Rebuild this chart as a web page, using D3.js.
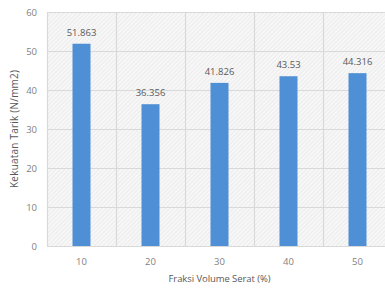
<!DOCTYPE html>
<html>
<head>
<meta charset="utf-8">
<script src="https://cdn.jsdelivr.net/npm/d3@7"></script>
<style>
  body { margin: 0; background: #fff; }
  text { font-family: "Open Sans", "Liberation Sans", sans-serif; fill: #595959; }
</style>
</head>
<body>
<div id="chart"></div>
<script>
// categories and values
var fraksi = ["10", "20", "30", "40", "50"];
var kekuatan = [51.863, 36.356, 41.826, 43.53, 44.316];
var labels = ["51.863", "36.356", "41.826", "43.53", "44.316"];
var yTicks = [0, 10, 20, 30, 40, 50, 60];

var width = 385, height = 290;
var margin = {top: 12, right: -7, bottom: 44, left: 47};

var svg = d3.select("#chart").append("svg")
	.attr("width", width)
	.attr("height", height);

// hatched plot background
var defs = svg.append("defs");
var pat = defs.append("pattern")
	.attr("id", "hatch")
	.attr("width", 3)
	.attr("height", 3)
	.attr("patternUnits", "userSpaceOnUse")
	.attr("patternTransform", "rotate(45)");
pat.append("rect").attr("width", 3).attr("height", 3).attr("fill", "#f7f7f7");
pat.append("line")
	.attr("x1", 0).attr("y1", 0).attr("x2", 0).attr("y2", 3)
	.attr("stroke", "#e2e2e2").attr("stroke-width", 1);

var x = d3.scaleBand()
	.domain(fraksi)
	.range([margin.left, width - margin.right])
	.paddingInner(0)
	.paddingOuter(0);

var y = d3.scaleLinear()
	.domain([0, 60])
	.range([height - margin.bottom, margin.top]);

svg.append("rect")
	.attr("x", margin.left)
	.attr("y", margin.top)
	.attr("width", width - margin.right - margin.left)
	.attr("height", y(0) - margin.top)
	.attr("fill", "url(#hatch)");

// horizontal gridlines
svg.selectAll("line.hgrid")
	.data(yTicks)
	.enter()
	.append("line")
	.attr("class", "hgrid")
	.attr("x1", margin.left)
	.attr("x2", width - margin.right)
	.attr("y1", function(d) { return y(d) + 0.5; })
	.attr("y2", function(d) { return y(d) + 0.5; })
	.attr("stroke", "#d9d9d9")
	.attr("stroke-width", 1.2);

// vertical gridlines at category boundaries
var bounds = fraksi.map(function(d) { return x(d); }).concat([x(fraksi[fraksi.length - 1]) + x.bandwidth()]);
svg.selectAll("line.vgrid")
	.data(bounds)
	.enter()
	.append("line")
	.attr("class", "vgrid")
	.attr("x1", function(d) { return d + 0.5; })
	.attr("x2", function(d) { return d + 0.5; })
	.attr("y1", margin.top)
	.attr("y2", y(0))
	.attr("stroke", "#d9d9d9")
	.attr("stroke-width", 1.2);

// bars
var barW = 18;
svg.selectAll("rect.bar")
	.data(kekuatan)
	.enter()
	.append("rect")
	.attr("class", "bar")
	.attr("x", function(d, i) { return x(fraksi[i]) + x.bandwidth() / 2 - barW / 2; })
	.attr("y", function(d) { return y(d); })
	.attr("width", barW)
	.attr("height", function(d) { return y(0) - y(d); })
	.attr("fill", "#4f8fd6");

// value labels
svg.selectAll("text.val")
	.data(kekuatan)
	.enter()
	.append("text")
	.attr("class", "val")
	.attr("x", function(d, i) { return x(fraksi[i]) + x.bandwidth() / 2; })
	.attr("y", function(d) { return y(d) - 8; })
	.attr("text-anchor", "middle")
	.style("font-size", "9.5px")
	.text(function(d, i) { return labels[i]; });

// y tick labels
svg.selectAll("text.ytick")
	.data(yTicks)
	.enter()
	.append("text")
	.attr("class", "ytick")
	.attr("x", 37)
	.attr("y", function(d) { return y(d) + 3.5; })
	.attr("text-anchor", "end")
	.style("font-size", "9.5px")
	.style("fill", "#7f7f7f")
	.text(function(d) { return d; });

// x tick labels
svg.selectAll("text.xtick")
	.data(fraksi)
	.enter()
	.append("text")
	.attr("class", "xtick")
	.attr("x", function(d) { return x(d) + x.bandwidth() / 2; })
	.attr("y", 265)
	.attr("text-anchor", "middle")
	.style("font-size", "9.5px")
	.style("fill", "#7f7f7f")
	.text(function(d) { return d; });

// axis titles
svg.append("text")
	.attr("x", (margin.left + width - margin.right) / 2)
	.attr("y", 282)
	.attr("text-anchor", "middle")
	.style("font-size", "9.5px")
	.attr("textLength", 102)
	.text("Fraksi Volume Serat (%)");

svg.append("text")
	.attr("transform", "translate(18," + ((margin.top + y(0)) / 2) + ") rotate(-90)")
	.attr("text-anchor", "middle")
	.style("font-size", "10px")
	.attr("textLength", 118)
	.text("Kekuatan Tarik (N/mm2)");
</script>
</body>
</html>
